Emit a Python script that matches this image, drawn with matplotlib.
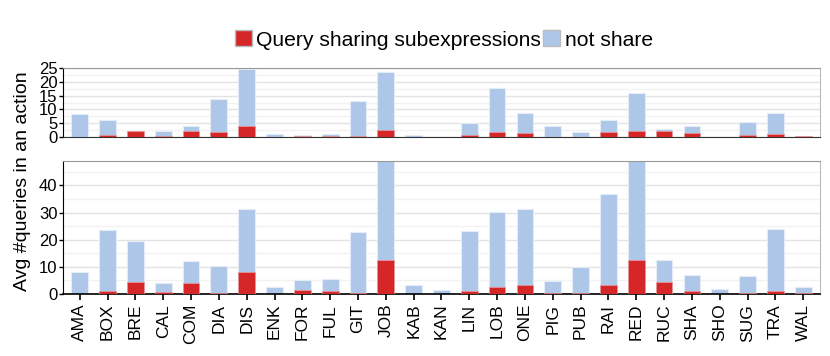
import matplotlib
matplotlib.use("Agg")
import matplotlib.pyplot as plt
from matplotlib.patches import Patch
import numpy as np

plt.rcParams['font.family'] = ['Liberation Sans', 'DejaVu Sans']

names = ["AMA", "BOX", "BRE", "CAL", "COM", "DIA", "DIS", "ENK", "FOR", "FUL",
         "GIT", "JOB", "KAB", "KAN", "LIN", "LOB", "ONE", "PIG", "PUB", "RAI",
         "RED", "RUC", "SHA", "SHO", "SUG", "TRA", "WAL"]

# queries per action (top panel): total and sharing part
top_total = [8.3, 6.3, 2.3, 2.2, 4.0, 13.9, 24.8, 1.2, 0.85, 1.1,
             12.9, 23.7, 0.7, 0.1, 5.1, 17.7, 8.8, 3.9, 1.8, 6.3,
             15.9, 3.0, 3.9, 0.1, 5.4, 8.7, 0.5]
top_share = [0.1, 0.6, 2.1, 0.5, 2.2, 1.7, 3.9, 0.2, 0.3, 0.4,
             0.5, 2.6, 0.2, 0.0, 0.6, 1.7, 1.3, 0.1, 0.2, 1.7,
             2.1, 2.2, 1.3, 0.0, 0.6, 1.0, 0.3]

# bottom panel
bot_total = [8.0, 23.6, 19.5, 4.2, 12.1, 10.2, 31.3, 2.7, 5.2, 5.4,
             22.9, 55.0, 3.2, 1.5, 23.1, 30.3, 31.2, 4.9, 9.9, 36.9,
             60.0, 12.5, 7.0, 1.8, 6.7, 24.0, 2.6]
bot_share = [0.1, 1.2, 4.5, 0.9, 4.0, 0.5, 8.2, 0.1, 1.6, 1.1,
             0.5, 12.5, 0.1, 0.1, 1.1, 2.5, 3.2, 0.5, 0.5, 3.3,
             12.6, 4.4, 1.2, 0.1, 0.5, 1.1, 0.5]

red = "#d62728"
blue = "#aec7e8"

fig = plt.figure(figsize=(8.3, 3.56), dpi=100)
ax1 = fig.add_axes([0.0759, 0.615, 0.912, 0.194])
ax2 = fig.add_axes([0.0759, 0.174, 0.912, 0.374])

x = np.arange(len(names))

def draw(ax, total, share, ylim, major, minor):
    ax.bar(x, total, width=0.6, color=blue, edgecolor="#e4ecf7", linewidth=0.8, zorder=2)
    ax.bar(x, share, width=0.6, color=red, edgecolor="#e89a9a", linewidth=0.5, zorder=3)
    ax.set_xlim(-0.6, len(names) - 0.4)
    ax.set_ylim(*ylim)
    ax.set_yticks(major)
    ax.set_yticks(minor, minor=True)
    ax.grid(axis="y", which="major", color="#e3e3e3", linewidth=1.0, zorder=0)
    ax.grid(axis="y", which="minor", color="#f2f2f2", linewidth=1.0, zorder=0)
    ax.tick_params(axis="y", which="major", length=3, width=1, color="black",
                   labelsize=12, pad=1)
    ax.tick_params(axis="y", which="minor", length=0)
    ax.spines["top"].set_color("#999999")
    ax.spines["right"].set_color("#bbbbbb")
    ax.spines["left"].set_color("black")
    ax.spines["bottom"].set_color("#333333")
    ax.set_axisbelow(True)

draw(ax1, top_total, top_share, (0, 25), [0, 5, 10, 15, 20, 25], [2.5, 7.5, 12.5, 17.5, 22.5])
ax1.set_xticks([])

draw(ax2, bot_total, bot_share, (0, 49), [0, 10, 20, 30, 40], [5, 15, 25, 35, 45])
ax2.set_xticks(x)
ax2.set_xticklabels(names, rotation=90, fontsize=12.5)
ax2.tick_params(axis="x", length=4, width=1.2, color="black", pad=3)
ax2.spines["bottom"].set_color("black")
ax2.spines["bottom"].set_linewidth(1.2)

fig.text(0.027, 0.49, "Avg #queries in an action", rotation=90, ha="center", va="center", fontsize=14)

handles = [Patch(facecolor=red, edgecolor="#bbbbbb"), Patch(facecolor=blue, edgecolor="#bbbbbb")]
fig.legend(handles, ["Query sharing subexpressions", "not share"], loc="center",
           bbox_to_anchor=(0.535, 0.888), ncol=2, frameon=False, fontsize=15.2,
           handlelength=0.8, handleheight=0.8, handletextpad=0.2, columnspacing=0.1,
           borderpad=0)

fig.savefig("out.png", dpi=100)
